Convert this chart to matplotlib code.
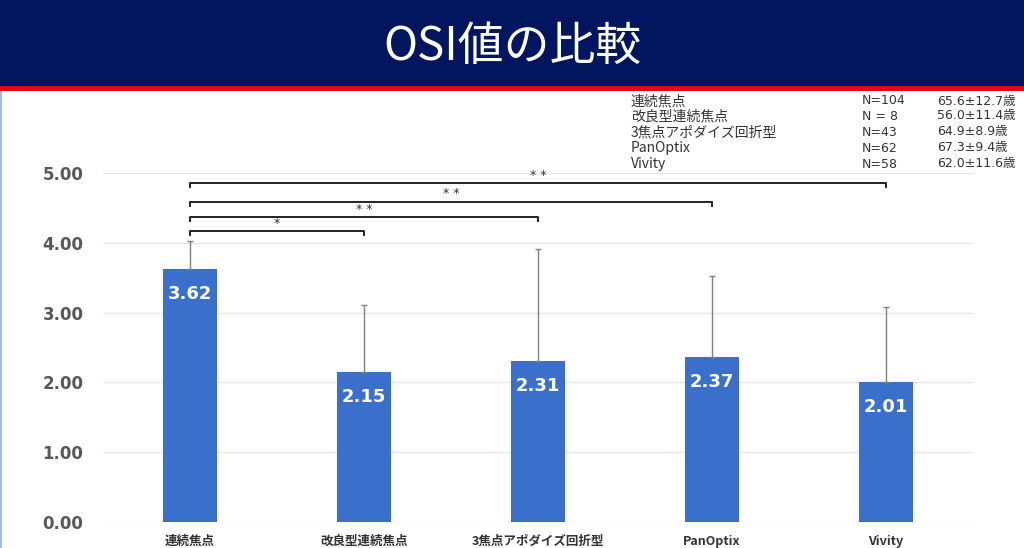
import matplotlib
matplotlib.use('Agg')
import matplotlib.pyplot as plt
from matplotlib.patches import Rectangle

plt.rcParams['font.family'] = ['Noto Sans CJK JP', 'DejaVu Sans']

# data
groups = ['連続焦点', '改良型連続焦点', '3焦点アポダイズ回折型', 'PanOptix', 'Vivity']
osi_mean = [3.62, 2.15, 2.31, 2.37, 2.01]
osi_sd = [0.41, 0.96, 1.60, 1.16, 1.07]
n_counts = ['N=104', 'N = 8', 'N=43', 'N=62', 'N=58']
ages = ['65.6±12.7歳', '56.0±11.4歳', '64.9±8.9歳', '67.3±9.4歳', '62.0±11.6歳']
yticks = [0, 1, 2, 3, 4, 5]

# significance brackets: (from, to, label) and their heights
sig_pairs = [(0, 1, '*'), (0, 2, '* *'), (0, 3, '* *'), (0, 4, '* *')]
sig_heights = [4.17, 4.37, 4.59, 4.86]

bar_color = '#3A6FCC'
W, H = 1024, 548
num_font = ['DejaVu Sans', 'Noto Sans CJK JP']

fig = plt.figure(figsize=(W / 100, H / 100), dpi=100)
fig.patch.set_facecolor('white')

# title banner
fig.patches.append(Rectangle((0, 1 - 86 / H), 1, 86 / H, transform=fig.transFigure,
                             facecolor='#01165E', edgecolor='none', zorder=0))
fig.patches.append(Rectangle((0, 1 - 91 / H), 1, 5 / H, transform=fig.transFigure,
                             facecolor='#E30613', edgecolor='none', zorder=0))
fig.patches.append(Rectangle((0, 0), 2 / W, 1 - 91 / H, transform=fig.transFigure,
                             facecolor='#9DBDE6', edgecolor='none', zorder=0))
fig.text(0.5, 1 - 47 / H, 'OSI値の比較', color='white', fontsize=33,
         ha='center', va='center')

# patient table in top right
row_y = [101, 116, 132, 148, 164]
for i in range(len(groups)):
    y = 1 - row_y[i] / H
    fig.text(631 / W, y, groups[i], fontsize=10, color='#333333', va='center')
    fig.text(862 / W, y, n_counts[i], fontsize=9, color='#333333', va='center',
             family=num_font)
    fig.text(937 / W, y, ages[i], fontsize=9, color='#333333', va='center',
             family=num_font)

# main bar chart
ax = fig.add_axes([103 / W, 26 / H, 870 / W, 349 / H])
x = list(range(len(groups)))
ax.bar(x, osi_mean, width=0.315, color=bar_color, zorder=2)
ax.errorbar(x, osi_mean, yerr=[[0] * len(x), osi_sd], fmt='none',
            ecolor='#808080', elinewidth=1, capsize=2, capthick=1, zorder=3)

for xi, v in zip(x, osi_mean):
    ax.annotate(f'{v:.2f}', (xi, v), xytext=(0, -18), textcoords='offset points',
                ha='center', va='center', color='white', fontsize=13,
                fontweight='bold', family='DejaVu Sans', zorder=4)

for (a, b, lab), h in zip(sig_pairs, sig_heights):
    ax.plot([a, a, b, b], [h - 0.06, h, h, h - 0.06], color='#222222', lw=1.4,
            clip_on=False, zorder=5)
    ax.annotate(lab, ((a + b) / 2, h), xytext=(0, 5.5), textcoords='offset points',
                ha='center', va='center', fontsize=9, color='#333333',
                family='DejaVu Sans', annotation_clip=False)

ax.set_xlim(-0.5, 4.5)
ax.set_ylim(0, 5)
ax.set_yticks(yticks)
ax.set_yticklabels([f'{t:.2f}' for t in yticks], fontsize=12, fontweight='bold',
                   color='#595959', family='DejaVu Sans')
ax.set_xticks(x)
ax.set_xticklabels(groups, fontsize=9, color='#333333', fontweight='bold')
ax.tick_params(axis='both', length=0)
ax.tick_params(axis='y', pad=14)
ax.tick_params(axis='x', pad=9)
ax.grid(axis='y', color='#E6E6E6', lw=1, zorder=0)
for s in ax.spines.values():
    s.set_visible(False)

fig.savefig('out.png', dpi=100)
